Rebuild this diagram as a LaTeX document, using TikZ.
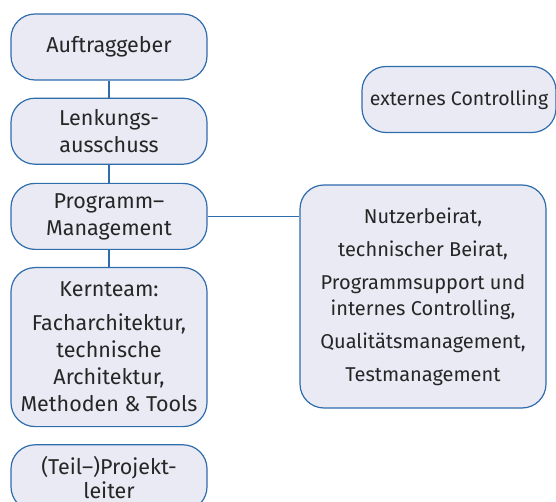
\documentclass[tikz,border=0pt]{standalone}
\usepackage{fontspec}
\setmainfont{Fira Sans}
\usetikzlibrary{positioning}
\definecolor{boxfill}{HTML}{E9EAF4}
\definecolor{boxline}{HTML}{2F6CAC}
\definecolor{boxtext}{HTML}{262626}
\tikzset{org node/.style={draw=boxline, fill=boxfill, text=boxtext, rounded corners=24pt, minimum width=196pt, minimum height=66pt, align=center, inner sep=2pt, font=\fontsize{21.5}{27}\selectfont},}

\begin{document}
\begin{tikzpicture}[x=1pt, y=-1pt, boxline, line width=1.2pt]
				\useasboundingbox (0,0) rectangle (556,502);
				% Left column
				\node[org node] (auftrag) at (109,47) {Auftraggeber};
				\node[org node] [below = 17pt of auftrag] (lenkung) {Lenkungs-\\ausschuss};
				\node[org node] [below = 18pt of lenkung] (programm) {Programm–\\Management};
				\node[org node, minimum height=159pt] [below = 17pt of programm] (kernteam) {Kernteam:\\[7pt]Facharchitektur,\\technische\\Architektur,\\Methoden \& Tools};
				\node[org node] [below = 18pt of kernteam, yshift=1pt] (teilprojekt) {(Teil–)Projekt-\\[-3pt]leiter};
				% Right column
				\node[org node, minimum width=194pt, font=\fontsize{19.5}{27}\selectfont] (extern) at (459,99.5) {externes Controlling};
				\node[org node, minimum width=246pt, minimum height=223pt, font=\fontsize{20}{26}\selectfont] (beirat) at (423,296.5) {Nutzerbeirat,\\[7pt]technischer Beirat,\\[7pt]Programmsupport und\\internes Controlling,\\[7pt]Qualitätsmanagement,\\[7pt]Testmanagement};
				% Lines
				\draw (auftrag) -- (lenkung);
				\draw (lenkung) -- (programm);
				\draw (programm) -- (kernteam);
				\draw (programm.east) -- (programm.east -| beirat.west);
			\end{tikzpicture}
\end{document}
